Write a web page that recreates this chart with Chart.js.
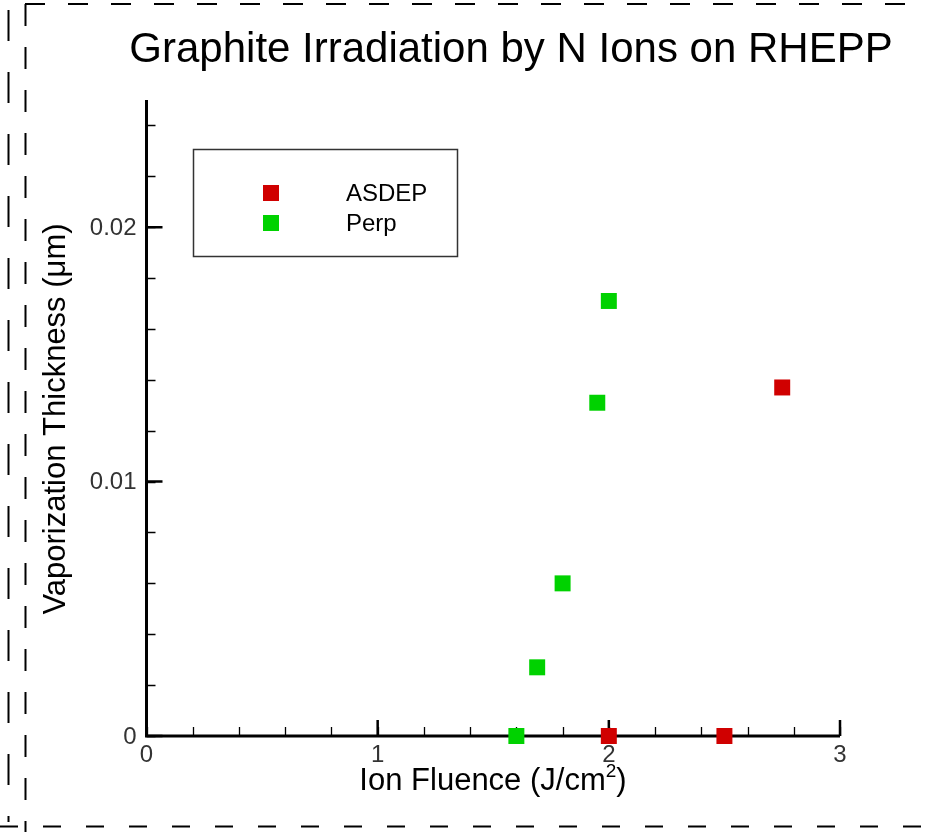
<!DOCTYPE html>
<html>
<head>
<meta charset="utf-8">
<script src="https://cdn.jsdelivr.net/npm/chart.js@4"></script>
<style>
  html, body { margin: 0; padding: 0; background: #fff; }
  #wrap { width: 926px; height: 832px; position: relative; }
</style>
</head>
<body>
<div id="wrap"><canvas id="chart"></canvas></div>
<script>
// Datos
const TITLE = 'Graphite Irradiation by N Ions on RHEPP';
const SERIES_NAMES = ['ASDEP', 'Perp'];
const asdepX = [2.0, 2.5, 2.75];
const asdepY = [0, 0, 0.0137];
const perpX = [1.6, 1.69, 1.8, 1.95, 2.0];
const perpY = [0, 0.0027, 0.006, 0.0131, 0.0171];
const xTicks = [0, 1, 2, 3];
const xTickLabels = ['0', '1', '2', '3'];
const yTicks = [0, 0.01, 0.02];
const yTickLabels = ['0', '0.01', '0.02'];
const X_MINOR = 0.2;
const Y_MINOR = 0.002;

const RED = 'rgb(208,0,0)';
const GREEN = 'rgb(0,210,0)';
const FONT = '"Liberation Sans", Arial, sans-serif';

function toPoints(xs, ys) {
    return xs.map((x, i) => ({ x: x, y: ys[i] }));
}

// Marco punteado alrededor
const framePlugin = {
    id: 'frame',
    beforeDraw(chart) {
        const ctx = chart.ctx;
        ctx.save();
        ctx.strokeStyle = '#000';
        ctx.lineWidth = 2;
        const line = (x1, y1, x2, y2, dash) => {
            ctx.setLineDash(dash);
            ctx.beginPath();
            ctx.moveTo(x1, y1);
            ctx.lineTo(x2, y2);
            ctx.stroke();
        };
        line(25, 4, 926, 4, [20, 23]);
        line(25.5, 4, 25.5, 832, [22, 21]);
        line(8.5, 10, 8.5, 822, [31, 31]);
        line(0, 826.5, 926, 826.5, [18, 25]);
        ctx.restore();
    }
};

// Ejes, ticks, etiquetas y leyenda
const axesPlugin = {
    id: 'axes',
    beforeDatasetsDraw(chart) {
        const ctx = chart.ctx;
        const xs = chart.scales.x;
        const ys = chart.scales.y;
        const x0 = xs.getPixelForValue(xs.min);
        const x1 = xs.getPixelForValue(xs.max);
        const y0 = ys.getPixelForValue(ys.min);
        const y1 = ys.getPixelForValue(ys.max);
        ctx.save();
        ctx.strokeStyle = '#000';
        ctx.setLineDash([]);

        // lineas de ejes
        ctx.lineWidth = 3;
        ctx.beginPath();
        ctx.moveTo(x0, y1);
        ctx.lineTo(x0, y0);
        ctx.lineTo(x1, y0);
        ctx.stroke();

        // ticks menores
        ctx.lineWidth = 1.3;
        ctx.beginPath();
        for (let v = xs.min; v <= xs.max + 1e-9; v += X_MINOR) {
            const px = Math.round(xs.getPixelForValue(v)) + 0.5;
            ctx.moveTo(px, y0);
            ctx.lineTo(px, y0 - 9);
        }
        for (let v = ys.min; v <= ys.max + 1e-9; v += Y_MINOR) {
            const py = Math.round(ys.getPixelForValue(v)) + 0.5;
            ctx.moveTo(x0, py);
            ctx.lineTo(x0 + 9, py);
        }
        ctx.stroke();

        // ticks mayores
        ctx.lineWidth = 2.5;
        ctx.beginPath();
        xTicks.forEach(v => {
            const px = xs.getPixelForValue(v);
            ctx.moveTo(px, y0);
            ctx.lineTo(px, y0 - 16);
        });
        yTicks.forEach(v => {
            const py = ys.getPixelForValue(v);
            ctx.moveTo(x0, py);
            ctx.lineTo(x0 + 16, py);
        });
        ctx.stroke();
        ctx.restore();
    },
    afterDraw(chart) {
        const ctx = chart.ctx;
        const xs = chart.scales.x;
        const ys = chart.scales.y;
        const x0 = xs.getPixelForValue(xs.min);
        const y0 = ys.getPixelForValue(ys.min);
        ctx.save();

        // etiquetas de ticks
        ctx.fillStyle = '#333';
        ctx.font = '24px ' + FONT;
        ctx.textAlign = 'center';
        ctx.textBaseline = 'middle';
        xTicks.forEach((v, i) => {
            ctx.fillText(xTickLabels[i], xs.getPixelForValue(v), y0 + 19);
        });
        ctx.textAlign = 'right';
        yTicks.forEach((v, i) => {
            ctx.fillText(yTickLabels[i], x0 - 10, ys.getPixelForValue(v) + 1);
        });

        // titulo
        ctx.fillStyle = '#000';
        ctx.font = '42px ' + FONT;
        ctx.textAlign = 'center';
        ctx.textBaseline = 'alphabetic';
        ctx.fillText(TITLE, 511, 62);

        // titulo eje x con superindice
        const big = '31px ' + FONT;
        const small = '19px ' + FONT;
        ctx.font = big;
        const partA = 'Ion Fluence (J/cm';
        const partC = ')';
        const wA = ctx.measureText(partA).width;
        const wC = ctx.measureText(partC).width;
        ctx.font = small;
        const wB = ctx.measureText('2').width;
        const sx = 493 - (wA + wB + wC) / 2;
        ctx.textAlign = 'left';
        ctx.font = big;
        ctx.fillText(partA, sx, 790);
        ctx.font = small;
        ctx.fillText('2', sx + wA, 777);
        ctx.font = big;
        ctx.fillText(partC, sx + wA + wB, 790);

        // titulo eje y
        ctx.save();
        ctx.translate(65, 419);
        ctx.rotate(-Math.PI / 2);
        ctx.textAlign = 'center';
        ctx.font = '31px ' + FONT;
        ctx.fillText('Vaporization Thickness (\u03bcm)', 0, 0);
        ctx.restore();

        // leyenda
        ctx.strokeStyle = '#333';
        ctx.lineWidth = 1.5;
        ctx.strokeRect(193.5, 149.5, 264, 107);
        const rows = [193, 223];
        chart.data.datasets.forEach((ds, i) => {
            ctx.fillStyle = ds.backgroundColor;
            ctx.fillRect(263, rows[i] - 8, 16, 16);
            ctx.fillStyle = '#000';
            ctx.font = '24px ' + FONT;
            ctx.textBaseline = 'middle';
            ctx.fillText(ds.label, 346, rows[i] + 1);
        });
        ctx.restore();
    }
};

new Chart(document.getElementById('chart'), {
    type: 'scatter',
    data: {
        datasets: [
            {
                label: SERIES_NAMES[0],
                data: toPoints(asdepX, asdepY),
                backgroundColor: RED,
                borderColor: RED,
                borderWidth: 0,
                pointStyle: 'rect',
                pointRadius: 11.3,
                pointHoverRadius: 11.3,
                clip: false
            },
            {
                label: SERIES_NAMES[1],
                data: toPoints(perpX, perpY),
                backgroundColor: GREEN,
                borderColor: GREEN,
                borderWidth: 0,
                pointStyle: 'rect',
                pointRadius: 11.3,
                pointHoverRadius: 11.3,
                clip: false
            }
        ]
    },
    options: {
        responsive: true,
        maintainAspectRatio: false,
        animation: false,
        events: [],
        layout: { padding: { left: 146.5, right: 86, top: 100, bottom: 96 } },
        plugins: {
            legend: { display: false },
            tooltip: { enabled: false }
        },
        scales: {
            x: { type: 'linear', min: 0, max: 3, display: false },
            y: { type: 'linear', min: 0, max: 0.025, display: false }
        }
    },
    plugins: [framePlugin, axesPlugin]
});
</script>
</body>
</html>
